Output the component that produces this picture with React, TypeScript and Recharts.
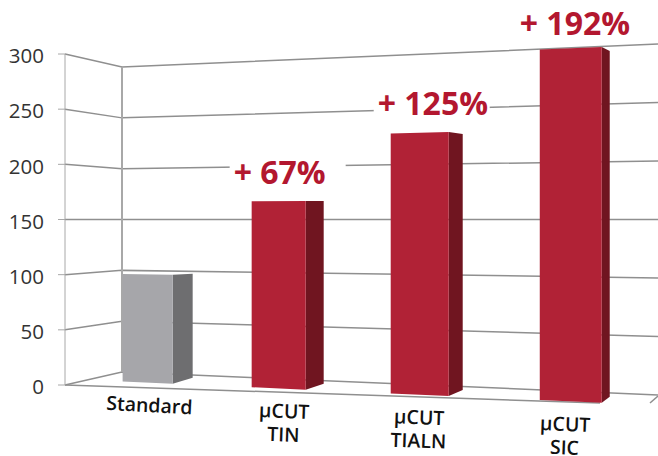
import { Bar, BarChart, Cell, LabelList, ReferenceLine, XAxis, YAxis } from 'recharts';

const categories = ['Standard', 'µCUT\nTIN', 'µCUT\nTIALN', 'µCUT\nSIC'];
const values = [100, 167, 225, 292];
const gains = ['', '+ 67%', '+ 125%', '+ 192%'];
const yTicks = [0, 50, 100, 150, 200, 250, 300];

const frontColors = ['#a6a6aa', '#b12236', '#b12236', '#b12236'];
const sideColors = ['#6e6e70', '#701520', '#701520', '#701520'];

// per-bar tweaks for the fake 3d look, the picture is not a clean projection
const sideDepth = [20, 18, 14, 8];
const sideTopDrop = [-1, 0, 2, 4];
const tickDx = [2, 6, 0, -5];
const tickTilt = [3, 2, 2, 2];
const gainDx = [0, -18, -13, -20];
const gainDy = [0, -17, -18, -15];

const data = categories.map((name, i) => ({ name, value: values[i], gain: gains[i] }));

const PLOT_TOP = 54;
const PLOT_BOTTOM = 385;
const HORIZON = 220;
const LEFT_WALL = 65;
const BACK_CORNER = 122;
const UNIT = (PLOT_BOTTOM - PLOT_TOP) / 300;

// plot x -> skewed x, bands get wider towards the right
const projX = (x: number) => {
  const t = (x - 147) / 141;
  return 147 + 126 * t + 5 * t * t;
};
const floorY = (x: number) => 381.5 + (x - 122) * 0.0444;
const rise = (x: number) => (1.075 + (x - 122) * 0.0003) / UNIT;
const backY = (y: number, k: number) => HORIZON + (y - HORIZON) * k;

const Prism = (props: any) => {
  const { x, width, height, index } = props;
  const xl = projX(x);
  const xr = projX(x + width);
  const xs = xr + sideDepth[index];
  const topL = floorY(xl) - height * rise(xl);
  const topR = floorY(xr) - height * rise(xr);
  const baseL = floorY(xl);
  const baseR = floorY(xr);
  return (
    <g>
      <polygon
        points={`${xr},${topR} ${xs},${topR + sideTopDrop[index]} ${xs},${baseR - 6} ${xr},${baseR}`}
        fill={sideColors[index]}
      />
      <polygon points={`${xl},${topL} ${xr},${topR} ${xr},${baseR} ${xl},${baseL}`} fill={frontColors[index]} />
    </g>
  );
};

const GainLabel = (props: any) => {
  const { x, y, height, index, value } = props;
  if (!value) return null;
  const xl = projX(x);
  const top = y !== undefined ? floorY(xl) - height * rise(xl) : 0;
  const left = xl + gainDx[index];
  const baseline = top + gainDy[index];
  return (
    <g>
      <rect x={left - 4} y={baseline - 26} width={116} height={32} fill="#fff" />
      <text x={left} y={baseline} fill="#b3172f" fontSize={32} fontWeight={700} fontFamily="Open Sans">
        {value}
      </text>
    </g>
  );
};

const WallLine = (props: any) => {
  const y = props.y1;
  const b1 = backY(y, 0.9215);
  const b2 = backY(y, 1.06);
  return (
    <polyline
      points={`${LEFT_WALL},${y} ${BACK_CORNER},${b1} 658,${b2}`}
      fill="none"
      stroke="#8f8f8f"
      strokeWidth={1.5}
    />
  );
};

const FloorLines = (props: any) => {
  const y = props.y1;
  return (
    <g fill="none" stroke="#8f8f8f" strokeWidth={1.5}>
      <line
        x1={BACK_CORNER}
        y1={backY(PLOT_TOP, 0.9215)}
        x2={BACK_CORNER}
        y2={backY(y, 0.9215)}
        stroke="#a8a8a8"
        strokeWidth={2}
      />
      <polyline points={`${LEFT_WALL},${y} 600,403`} />
      <line x1={650} y1={403} x2={658} y2={396} />
    </g>
  );
};

const CategoryTick = (props: any) => {
  const { x, payload, index } = props;
  const cx = projX(x) + tickDx[index];
  const cy = floorY(projX(x)) + 29.5;
  const lines = String(payload.value).split('\n');
  return (
    <text
      x={cx}
      y={cy}
      textAnchor="middle"
      fill="#111"
      fontSize={19.5}
      fontWeight={600}
      fontFamily="Open Sans"
      transform={`rotate(${tickTilt[index]} ${cx} ${cy})`}
    >
      {lines.map((line, i) => (
        <tspan key={line} x={cx} dy={i === 0 ? 0 : 23.5}>
          {line}
        </tspan>
      ))}
    </text>
  );
};

export default function App() {
  return (
    <div style={{ position: 'absolute', left: 0, top: 0, background: '#fff' }}>
      <BarChart
        width={658}
        height={456}
        data={data}
        barSize={56}
        margin={{ top: PLOT_TOP, right: 0, bottom: 0, left: 0 }}
      >
        <XAxis
          dataKey="name"
          height={456 - PLOT_BOTTOM}
          padding={{ left: 11.5, right: 17.5 }}
          axisLine={false}
          tickLine={false}
          tick={CategoryTick}
          interval={0}
        />
        <YAxis
          width={LEFT_WALL}
          domain={[0, 300]}
          ticks={yTicks}
          tickSize={7}
          tickMargin={14}
          stroke="#a8a8a8"
          tick={{ fontSize: 20.5, fontFamily: 'Open Sans', fill: '#333', dy: 2 }}
        />
        {yTicks.map((t) => (
          <ReferenceLine key={t} y={t} shape={WallLine} zIndex={-10} />
        ))}
        <ReferenceLine y={0} shape={FloorLines} zIndex={-10} />
        <Bar dataKey="value" isAnimationActive={false} shape={Prism}>
          {data.map((d, i) => (
            <Cell key={d.name} fill={frontColors[i]} />
          ))}
          <LabelList dataKey="gain" content={GainLabel} />
        </Bar>
      </BarChart>
    </div>
  );
}
